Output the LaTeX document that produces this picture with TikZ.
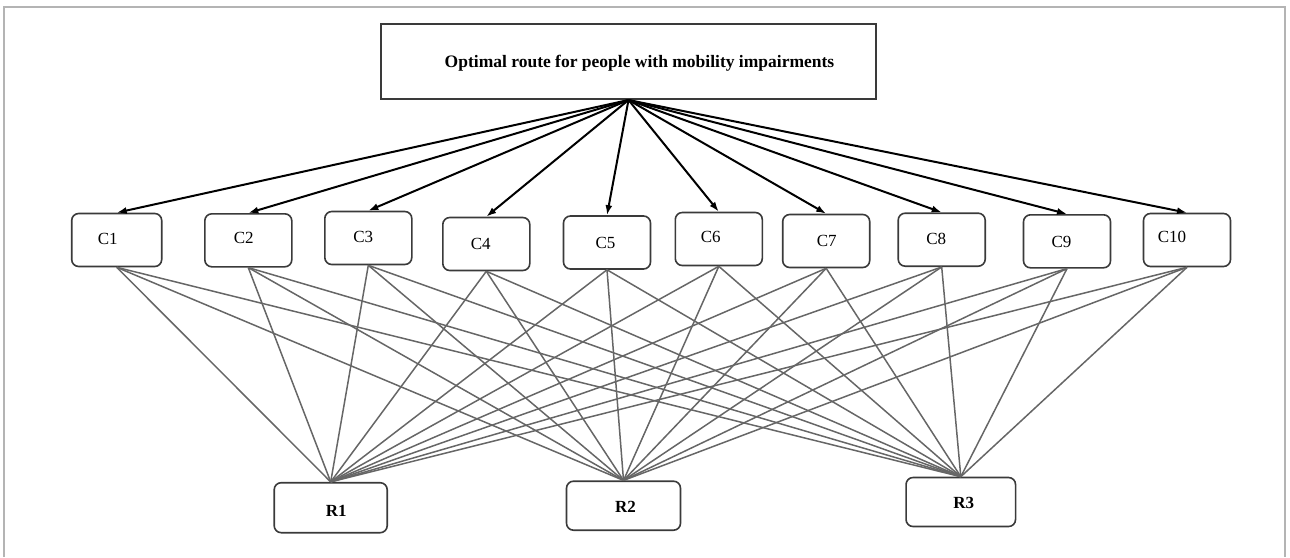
\documentclass[tikz,border=0pt]{standalone}
\usepackage{fontspec}
\setmainfont{Liberation Serif}
\usetikzlibrary{arrows.meta}
\definecolor{framegray}{HTML}{B4B4B4}
\definecolor{edgegray}{HTML}{666666}
\definecolor{boxgray}{HTML}{3A3A3A}
\begin{document}
\begin{tikzpicture}[x=1pt,y=-1pt,
  crit/.style={draw=boxgray,line width=1.6pt,rounded corners=7pt,fill=white,
    minimum width=87pt,minimum height=53pt,inner sep=0pt},
  alt/.style={draw=boxgray,line width=1.6pt,rounded corners=7pt,fill=white,
    minimum height=50pt,inner sep=0pt},
  goal/.style={draw=boxgray,line width=1.6pt,fill=white,inner sep=0pt,
    minimum width=495pt,minimum height=75pt},
  ctext/.style={font=\fontsize{17}{20}\selectfont,inner sep=0pt},
  rtext/.style={font=\fontsize{17}{20}\selectfont\bfseries,inner sep=0pt},
  gtext/.style={font=\fontsize{17.5}{20}\selectfont\bfseries,inner sep=0pt},
  link/.style={draw=edgegray,line width=1.5pt},
  arr/.style={draw=black,line width=2pt,-{Latex[length=10pt,width=7pt]}},
  framel/.style={draw=framegray,line width=1.5pt}
]
\useasboundingbox (0,0) rectangle (1290,557);
\draw[framel] (4,557) -- (4,7) -- (1285,7) -- (1285,557);

% alternatives (drawn first so links meet their tops)
\node[alt,minimum width=113pt,label={[rtext,xshift=5.5pt,yshift=-3pt]center:R1}] (R1) at (330.7,507.7) {};
\node[alt,minimum width=114pt,minimum height=49pt,label={[rtext,xshift=2pt,yshift=-1pt]center:R2}] (R2) at (623.5,505.7) {};
\node[alt,minimum width=109.5pt,minimum height=49pt,label={[rtext,xshift=3pt,yshift=-1pt]center:R3}] (R3) at (960.8,502) {};

% criteria
\node[crit,minimum width=90pt,label={[ctext,xshift=-9pt,yshift=1pt]center:C1}] (C1) at (116.7,240) {};
\node[crit,label={[ctext,xshift=-4.5pt,yshift=2pt]center:C2}] (C2) at (248.3,240.3) {};
\node[crit,label={[ctext,xshift=-5pt,yshift=1pt]center:C3}] (C3) at (368.3,238) {};
\node[crit,label={[ctext,xshift=-5.5pt,yshift=0pt]center:C4}] (C4) at (486.3,244) {};
\node[crit,label={[ctext,xshift=-1.5pt,yshift=0pt]center:C5}] (C5) at (607,242.5) {};
\node[crit,label={[ctext,xshift=-8pt,yshift=2pt]center:C6}] (C6) at (718.8,239) {};
\node[crit,label={[ctext,xshift=0.5pt,yshift=0pt]center:C7}] (C7) at (826.2,241) {};
\node[crit,label={[ctext,xshift=-5.5pt,yshift=1pt]center:C8}] (C8) at (941.7,239.7) {};
\node[crit,label={[ctext,xshift=-5.5pt,yshift=-1pt]center:C9}] (C9) at (1067,241.3) {};
\node[crit,label={[ctext,xshift=-15pt,yshift=3pt]center:C10}] (C10) at (1187,240) {};

% links criteria -> alternatives
\foreach \c in {C1,C2,C3,C4,C5,C6,C7,C8,C9,C10}{
  \foreach \r in {R1,R2,R3}{
    \draw[link] (\c.south) -- (\r.north);
  }
}

% goal
\node[goal,label={[gtext,xshift=11pt,yshift=-1.5pt]center:Optimal route for people with mobility impairments}] (G) at (628.5,61.7) {};

\foreach \c in {C1,C2,C3,C4,C5,C6,C7,C8,C9,C10}{
  \draw[arr] (G.south) -- (\c.north);
}
\end{tikzpicture}
\end{document}
